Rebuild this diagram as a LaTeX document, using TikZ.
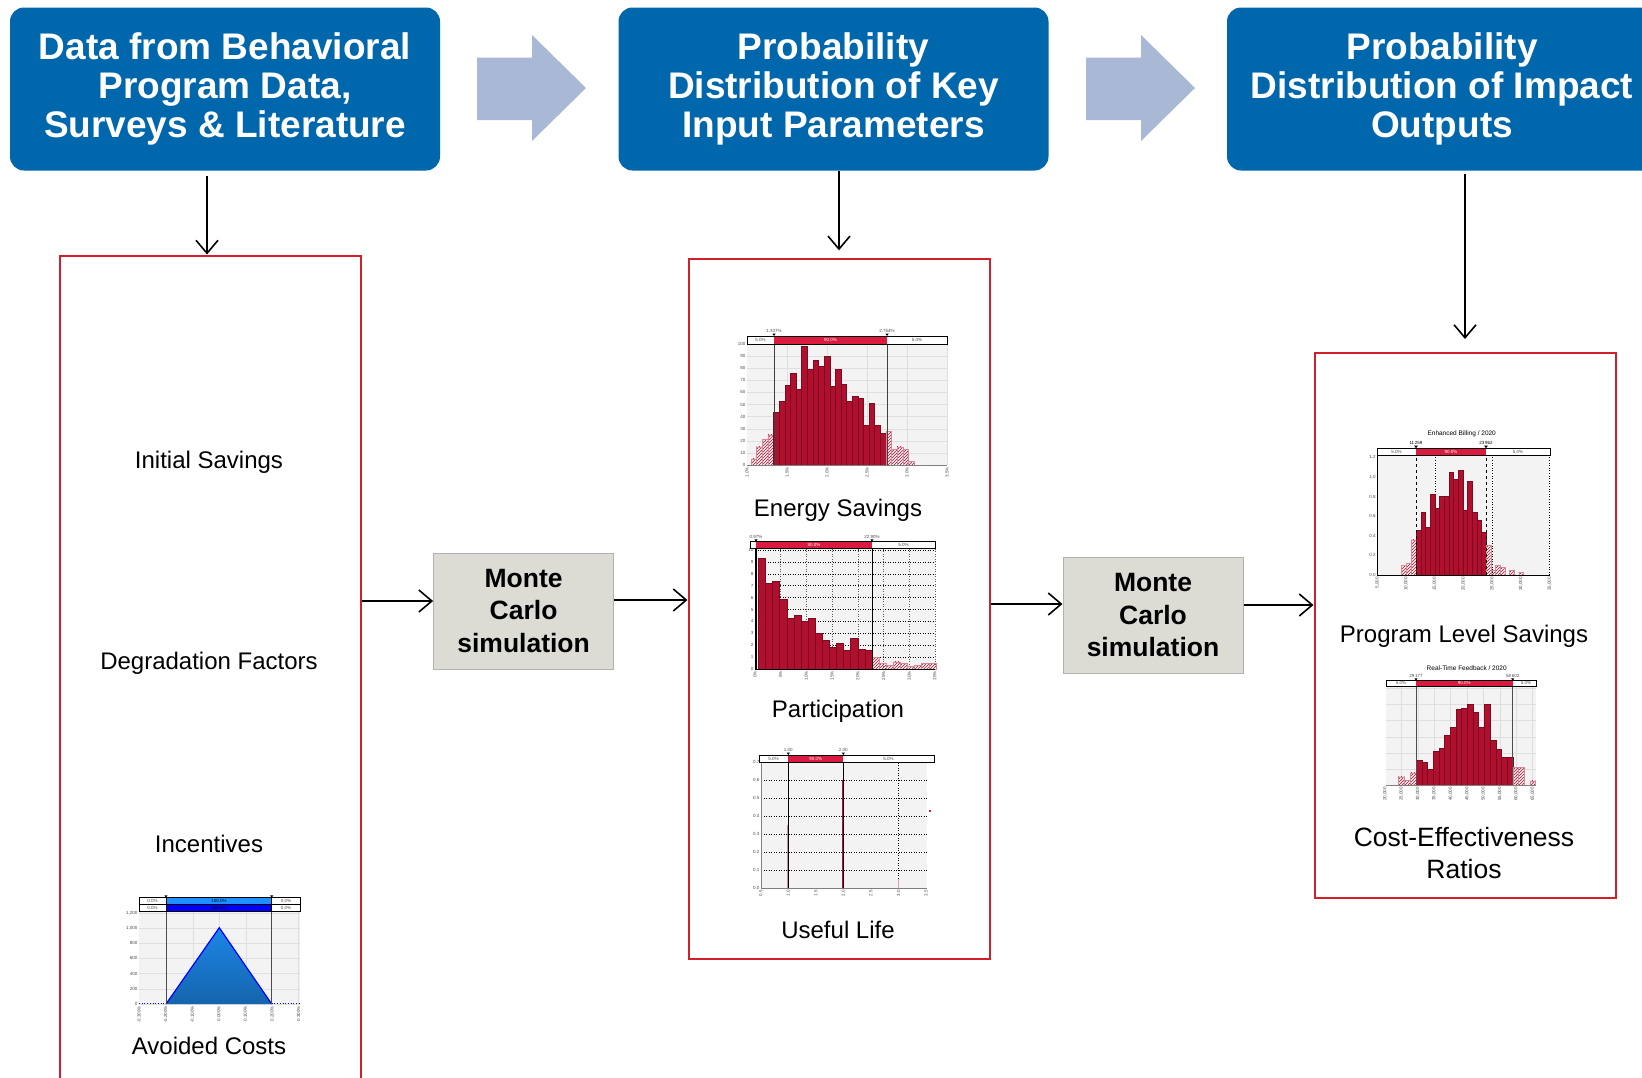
\documentclass[tikz,border=0pt]{standalone}
\usepackage{fontspec}
\setmainfont{Liberation Sans}
\usetikzlibrary{arrows.meta, positioning, patterns}

\definecolor{boxblue}{HTML}{0067AC}
\definecolor{arrowblue}{HTML}{A9B8D5}
\definecolor{mcgray}{HTML}{DCDCD5}
\definecolor{framered}{HTML}{D2202A}
\definecolor{barred}{HTML}{B0102E}
\definecolor{segred}{HTML}{DA1A3E}
\definecolor{panelgray}{HTML}{F3F3F3}
\definecolor{triblue}{HTML}{1C86E6}
\definecolor{rowblue}{HTML}{1E90FF}

\tikzset{
  topbox/.style={fill=boxblue, rounded corners=14pt, minimum width=430pt, minimum height=163pt,
    text=white, align=center, font=\fontsize{37}{38.7}\selectfont\bfseries},
  mcbox/.style={fill=mcgray, draw=gray!60, line width=1pt, minimum width=180pt, minimum height=116pt,
    align=center, font=\fontsize{26.5}{32.5}\selectfont\bfseries},
  redframe/.style={draw=framered, line width=2pt, minimum width=301pt, inner sep=0pt},
  link/.style={->, line width=1.6pt},
  lbl/.style={align=center, font=\fontsize{24}{32.5}\selectfont},
  tiny/.style={font=\fontsize{4.5}{5}\selectfont, inner sep=0.5pt, text=gray!60!black},
  chtitle/.style={font=\fontsize{6.5}{7}\selectfont, inner sep=0pt},
  grid/.style={gray!25, line width=0.3pt},
  bar/.style={fill=barred, draw=barred!70!black, line width=0.3pt},
  tailbar/.style={pattern=north east lines, pattern color=barred, draw=barred!50, line width=0.3pt}
}

\begin{document}
\begin{tikzpicture}[x=1pt, y=-1pt, >={Straight Barb[length=13pt, width=22pt]}]

  % 0. CANVAS
  \useasboundingbox (0,0) rectangle (1642,1077);
  \fill[white] (0,0) rectangle (1642,1077);
  \clip (0,0) rectangle (1642,1077);

  % 1. THE THREE STAGES
  \node[topbox] (data) at (225,89) {Data from Behavioral\\Program Data,\\Surveys \& Literature};
  \node[topbox] (keyin) at (833.5,89) {Probability\\Distribution of Key\\Input Parameters};
  \node[topbox] (impact) at (1442,89) {Probability\\Distribution of Impact\\Outputs};

  % block arrows between stages
  \foreach \x in {477,1086}
    \fill[arrowblue] (\x,57.6) -- ++(55,0) -- ++(0,-22.6) -- ++(54,53) -- ++(-54,53) -- ++(0,-21) -- ++(-55,0) -- cycle;

  % 2. FRAMES AND SIMULATION BOXES
  \node[redframe, minimum height=845pt] (inputs) at (210.5,678) {};
  \node[redframe, minimum height=700pt] (params) at (839,608.8) {};
  \node[redframe, minimum height=545pt] (outputs) at (1465,625.5) {};

  \node[mcbox] (mc1) at (523.6,611) {Monte\\Carlo\\simulation};
  \node[mcbox] (mc2) at (1153,615.5) {Monte\\Carlo\\simulation};

  % 3. CONNECTORS
  \draw[link, shorten <=5.5pt] ([xshift=-3.5pt]data.south -| inputs.north) -- ([xshift=-3.5pt]inputs.north);
  \draw[link, shorten >=7.5pt] (keyin.south -| params.north) -- (params.north);
  \draw[link, shorten <=3.5pt, shorten >=13pt] (impact.south -| outputs.north) -- (outputs.north);

  \draw[link] ([yshift=10pt]mc1.west -| inputs.east) -- ([yshift=10pt]mc1.west);
  \draw[link] ([yshift=11pt]mc1.east) -- ([yshift=11pt]mc1.east -| params.west);
  \draw[link] ([yshift=11.5pt]mc2.west -| params.east) -- ([yshift=11.5pt]mc2.west);
  \draw[link] ([yshift=10.5pt]mc2.east) -- ([yshift=10.5pt]mc2.east -| outputs.west);

  % 4. LABELS
  \node[lbl] (initsav) at (209,462) {Initial Savings};
  \node[lbl] (degrad) at (209,663) {Degradation Factors};
  \node[lbl] (incent) at (209,844) {Incentives};
  \node[lbl] (avoided) at (209,1046) {Avoided Costs};
  \node[lbl] (ensav) at (838,510) {Energy Savings};
  \node[lbl] (partic) at (838,711) {Participation};
  \node[lbl] (uselife) at (838,930) {Useful Life};
  \node[lbl] (progsav) at (1464,636) {Program Level Savings};
  \node[lbl, font=\fontsize{26.5}{32.5}\selectfont] (costeff) at (1464,853) {Cost-Effectiveness\\Ratios};

  % 5. CHARTS
  % Avoided Costs (triangular)
  \begin{scope}[shift={(139,1004)}, y=1pt]
    \fill[panelgray] (0,0) rectangle (161,92.3);
    \foreach \x in {53.7,80.3,107,159} \draw[grid] (\x,0) -- (\x,92.3);
    \foreach \t [count=\i from 0] in {0,200,400,600,800,{1,000},{1,200}} {
      \draw[grid] (0,{\i*15.2}) -- (161,{\i*15.2});
      \node[tiny, anchor=east] at (-1,{\i*15.2}) {\t};
    }
    \draw[blue, line width=0.7pt, dotted] (0,0.5) -- (27,0.5) (132.7,0.5) -- (161,0.5);
    \shade[top color=triblue, bottom color=triblue!75!black] (27,0) -- (80.3,76.3) -- (132.7,0) -- cycle;
    \draw[blue, line width=1.2pt] (27,0) -- (80.3,76.3) -- (132.7,0);
    \foreach \x in {27,132.7} {
      \draw[gray!60!black, line width=0.5pt] (\x,0) -- (\x,106.3);
      \fill (\x,106.3) -- ++(-1.6,2.4) -- ++(3.2,0) -- cycle;
    }
    \fill[white] (0,92.3) rectangle (161,106.3);
    \fill[rowblue] (27,99.7) rectangle (132.7,106.3);
    \fill[blue] (27,92.3) rectangle (132.7,99.7);
    \draw[line width=0.5pt] (0,92.3) rectangle (161,106.3) (0,99.7) -- (161,99.7)
      (27,92.3) -- (27,106.3) (132.7,92.3) -- (132.7,106.3);
    \foreach \y in {96,103} {
      \node[tiny] at (13.5,\y) {0.0\%};
      \node[tiny, text=black] at (80,\y) {100.0\%};
      \node[tiny] at (147,\y) {0.0\%};
    }
    \foreach \v [count=\i from 0] in {-0.300\%,-0.200\%,-0.100\%,0.000\%,0.100\%,0.200\%,0.300\%}
      \node[tiny, rotate=90, anchor=east] at ({\i*26.6},-1.5) {\v};
  \end{scope}

  % Energy Savings
  \begin{scope}[shift={(747,465)}, y=1pt]
    \fill[panelgray] (0,0) rectangle (200,121);
    \foreach \t in {1,...,10} \draw[grid] (0,{\t*12.1}) -- (200,{\t*12.1});
    \foreach \i in {1,...,5} \draw[grid] ({\i*40},0) -- ({\i*40},121);
    \foreach \h [count=\i from 0] in {5,15,21,25}
      \draw[tailbar] ({4+\i*5.62},0) rectangle ++(5.62,{\h*1.21});
    \foreach \h [count=\i from 4] in {44,53,66,76,63,98,79,87,82,90,65,79,67,53,57,55,33,51,33,26}
      \draw[bar] ({4+\i*5.62},0) rectangle ++(5.62,{\h*1.21});
    \foreach \h [count=\i from 24] in {28,13,15,13,3}
      \draw[tailbar] ({4+\i*5.62},0) rectangle ++(5.62,{\h*1.21});
    \draw[gray, line width=0.5pt] (0,0) -- (200,0);
    \foreach \x/\v in {27/1.337\%,140/2.754\%} {
      \draw[gray!50!black, line width=0.6pt] (\x,0) -- (\x,129);
      \fill (\x,129) -- ++(-1.6,2.4) -- ++(3.2,0) -- cycle;
      \node[tiny, anchor=south] at (\x,131.5) {\v};
    }
    \fill[white] (0,121) rectangle (200,129);
    \fill[segred] (27,121) rectangle (140,129);
    \draw[line width=0.6pt] (0,121) rectangle (200,129);
    \node[tiny] at (13.5,125) {5.0\%};
    \node[tiny, text=white] at (83.5,125) {90.0\%};
    \node[tiny] at (170,125) {5.0\%};
    \foreach \t in {0,10,...,100} \node[tiny, anchor=east] at (-1,{\t*1.21}) {\t};
    \foreach \v [count=\i from 0] in {1.0\%,1.5\%,2.0\%,2.5\%,3.0\%,3.5\%}
      \node[tiny, rotate=90, anchor=east] at ({\i*40},-1.5) {\v};
  \end{scope}

  % Participation
  \begin{scope}[shift={(750,669)}, y=1pt]
    \fill[panelgray] (5,0) rectangle (185,121);
    \foreach \t in {1,...,10} \draw[dotted, line width=0.5pt] (5,{\t*11.9}) -- (185,{\t*11.9});
    \foreach \i in {1,...,7} \draw[dotted, gray!70!black, line width=0.5pt] ({5+\i*25.7},0) -- ({5+\i*25.7},121);
    \foreach \h [count=\i from 0] in {9.3,7.2,7.4,5.9,4.3,4.5,4.0,4.3,3.0,2.4,1.8,2.2,1.6,2.6,1.7,1.6}
      \draw[bar] ({8.3+\i*7.1},0) rectangle ++(7.1,{\h*11.9});
    \foreach \h [count=\i from 16] in {1.0,0.5,0.3,0.6,0.5,0.2,0.3,0.5,0.5}
      \draw[tailbar] ({8.3+\i*7.1},0) rectangle ++(7.1,{\h*11.9});
    \draw[line width=0.6pt] (5,0) -- (5,121) (5,0) -- (185,0);
    \foreach \x/\v in {6/0.97\%,122/22.90\%} {
      \draw[line width=0.6pt] (\x,0) -- (\x,127.3);
      \fill (\x,127.3) -- ++(-1.6,2.4) -- ++(3.2,0) -- cycle;
      \node[tiny, anchor=south] at (\x,129.8) {\v};
    }
    \fill[white] (0,121) rectangle (185,127.3);
    \fill[segred] (6,121) rectangle (122,127.3);
    \draw[line width=0.6pt] (0,121) rectangle (185,127.3);
    \node[tiny, text=white] at (64,124.2) {90.0\%};
    \node[tiny] at (153.5,124.2) {5.0\%};
    \foreach \t in {0,...,10} \node[tiny, anchor=east] at (4,{\t*11.9}) {\t};
    \foreach \v [count=\i from 0] in {0\%,5\%,10\%,15\%,20\%,25\%,30\%,35\%}
      \node[tiny, rotate=90, anchor=east] at ({5+\i*25.7},-1.5) {\v};
  \end{scope}

  % Useful Life
  \begin{scope}[shift={(759,888)}, y=1pt]
    \fill[panelgray] (2,0) rectangle (168,126);
    \foreach \t in {1,...,6} \draw[dotted, line width=0.5pt] (2,{\t*18}) -- (168,{\t*18});
    \draw[dotted, line width=0.5pt] (139.3,0) -- (139.3,126);
    \draw[gray, line width=0.6pt] (2,0) -- (2,126) (2,0) -- (168,0);
    \draw[barred!50, line width=0.9pt] (28.3,0) -- (28.3,63);
    \draw[barred, line width=0.9pt] (83.3,0) -- (83.3,108);
    \draw[barred!40, line width=0.9pt] (139.3,0) -- (139.3,9);
    \fill[segred] (170,76) rectangle ++(2,2.5);
    \foreach \x/\v in {29.3/1.00,84.3/2.00} {
      \draw[line width=0.8pt] (\x,0) -- (\x,133);
      \fill (\x,133) -- ++(-1.6,2.4) -- ++(3.2,0) -- cycle;
      \node[tiny, anchor=south] at (\x,135.5) {\v};
    }
    \fill[white] (0,126) rectangle (175,133);
    \fill[segred] (29.3,126) rectangle (84.3,133);
    \draw[line width=0.6pt] (0,126) rectangle (175,133);
    \node[tiny] at (14.6,129.5) {5.0\%};
    \node[tiny, text=white] at (56.8,129.5) {90.0\%};
    \node[tiny] at (129.6,129.5) {5.0\%};
    \foreach \t in {0,...,7} \node[tiny, anchor=east] at (1,{\t*18}) {0.\t};
    \foreach \v [count=\i from 0] in {0.5,1.0,1.5,2.0,2.5,3.0,3.5}
      \node[tiny, rotate=90, anchor=east] at ({1.7+\i*27.55},-1.5) {\v};
  \end{scope}

  % Program Level Savings
  \begin{scope}[shift={(1377.3,575)}, y=1pt]
    \fill[panelgray] (0,0) rectangle (172.7,119.3);
    \foreach \x in {57.7,115.4,172} \draw[dotted, line width=0.6pt] (\x,0) -- (\x,119.3);
    \foreach \h [count=\i from 0] in {0.10,0.12,0.36}
      \draw[tailbar] ({24+\i*4.9},0) rectangle ++(4.9,{\h*98});
    \foreach \h [count=\i from 0] in {0.46,0.64,0.49,0.82,0.68,0.80,0.80,1.05,0.98,1.07,0.66,0.96,0.64,0.56,0.44}
      \draw[bar] ({38.7+\i*4.67},0) rectangle ++(4.67,{\h*98});
    \foreach \h [count=\i from 0] in {0.30,0.05,0.10,0.08,0,0.05,0,0.03}
      \draw[tailbar] ({108.7+\i*4.67},0) rectangle ++(4.67,{\h*98});
    \draw[line width=0.6pt] (0,0) -- (0,119.3) (0,0) -- (172.7,0);
    \foreach \x/\v in {38.7/11\,259,108.7/23\,962} {
      \draw[dashed, line width=0.8pt] (\x,0) -- (\x,126.7);
      \fill (\x,126.7) -- ++(-1.8,2.6) -- ++(3.6,0) -- cycle;
      \node[tiny, text=black, anchor=south] at (\x,129.5) {\v};
    }
    \fill[white] (0,119.3) rectangle (172.7,126.7);
    \fill[segred] (38.7,119.3) rectangle (108.7,126.7);
    \draw[line width=0.7pt] (0,119.3) rectangle (172.7,126.7);
    \node[tiny] at (19.3,123) {5.0\%};
    \node[tiny, text=white] at (73.7,123) {90.0\%};
    \node[tiny] at (140.7,123) {5.0\%};
    \node[chtitle] at (84.4,141) {Enhanced Billing / 2020};
    \foreach \t [count=\i from 0] in {0.0,0.2,0.4,0.6,0.8,1.0,1.2} \node[tiny, anchor=east] at (-1,{\i*19.6}) {\t};
    \foreach \v [count=\i from 0] in {5,10,15,20,25,30,35}
      \node[tiny, rotate=90, anchor=east] at ({\i*28.7},-1.5) {\v,000};
  \end{scope}

  % Cost-Effectiveness Ratios
  \begin{scope}[shift={(1386,785)}, y=1pt]
    \fill[panelgray] (0,0) rectangle (150,99);
    \foreach \i in {1,...,9} \draw[grid] ({-1+\i*16.4},0) -- ({-1+\i*16.4},99);
    \foreach \t in {1,...,6} \draw[grid] (0,{\t*16.1}) -- (150,{\t*16.1});
    \foreach \h [count=\i from 0] in {0.5,0.3,0.75}
      \draw[tailbar] ({12.4+\i*5.85},0) rectangle ++(5.85,{\h*16.1});
    \foreach \h [count=\i from 0] in {1.55,1.45,1.0,2.1,2.3,3.1,3.6,4.7,4.75,5.0,4.5,3.6,5.0,2.8,2.2,1.7,1.7}
      \draw[bar] ({30+\i*5.69},0) rectangle ++(5.69,{\h*16.1});
    \foreach \h [count=\i from 0] in {1.1,1.1,0,0.25}
      \draw[tailbar] ({126.7+\i*5.69},0) rectangle ++(5.69,{\h*16.1});
    \draw[gray, line width=0.5pt] (0,0) -- (150,0);
    \foreach \x/\v in {30/29\,177,126.7/58\,602} {
      \draw[gray!60!black, line width=0.5pt] (\x,0) -- (\x,104.3);
      \fill (\x,104.3) -- ++(-1.6,2.4) -- ++(3.2,0) -- cycle;
      \node[tiny, anchor=south] at (\x,107) {\v};
    }
    \fill[white] (0,99) rectangle (150,104.3);
    \fill[segred] (30,99) rectangle (126.7,104.3);
    \draw[line width=0.5pt] (0,99) rectangle (150,104.3);
    \node[tiny] at (15,101.7) {5.0\%};
    \node[tiny, text=white] at (78.3,101.7) {90.0\%};
    \node[tiny] at (140,101.7) {5.0\%};
    \node[chtitle] at (80.7,116.7) {Real-Time Feedback / 2020};
    \foreach \v [count=\i from 0] in {20,25,30,35,40,45,50,55,60,65}
      \node[tiny, rotate=90, anchor=east] at ({-1+\i*16.4},-1.5) {\v,000};
  \end{scope}

\end{tikzpicture}
\end{document}
